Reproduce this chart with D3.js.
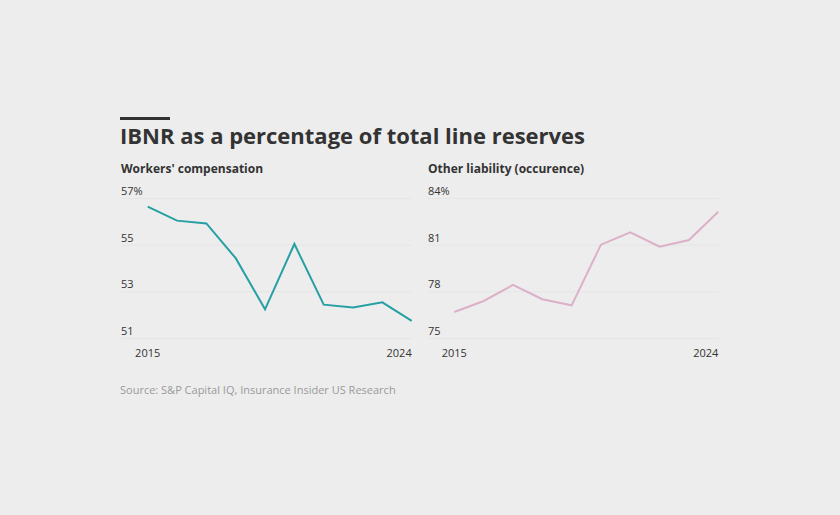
<!DOCTYPE html>
<html>
<head>
<meta charset="utf-8">
<script src="https://cdn.jsdelivr.net/npm/d3@7"></script>
<style>
  html, body { margin: 0; padding: 0; background: #ededed; }
  svg { display: block; }
  text { font-family: "Open Sans", sans-serif; }
</style>
</head>
<body>
<svg id="chart" width="840" height="515"></svg>
<script>
const years = [2015, 2016, 2017, 2018, 2019, 2020, 2021, 2022, 2023, 2024];
const workersComp = [56.63, 56.03, 55.91, 54.42, 52.23, 55.03, 52.43, 52.31, 52.53, 51.73];
const otherLiability = [76.67, 77.38, 78.41, 77.49, 77.10, 81.0, 81.79, 80.87, 81.30, 83.12];
const wcTicks = [51, 53, 55, 57];
const olTicks = [75, 78, 81, 84];
const xTickYears = [2015, 2024];

const svg = d3.select("#chart");
svg.append("rect").attr("width", 840).attr("height", 515).attr("fill", "#ededed");

svg.append("rect").attr("x", 120).attr("y", 117).attr("width", 50).attr("height", 3).attr("fill", "#333333");
svg.append("text").attr("x", 120).attr("y", 144)
  .attr("font-size", 22).attr("font-weight", 700).attr("fill", "#333333")
  .text("IBNR as a percentage of total line reserves");

svg.append("text").attr("x", 120).attr("y", 394)
  .attr("font-size", 11).attr("fill", "#9a9a9a")
  .text("Source: S&P Capital IQ, Insurance Insider US Research");

function panel(opts) {
  const g = svg.append("g");
  const x = d3.scaleLinear().domain([years[0], years[years.length - 1]]).range([opts.x0, opts.x1]);
  const y = d3.scaleLinear().domain(opts.domain).range([338, 198]);

  g.append("text").attr("x", opts.left).attr("y", 173)
    .attr("font-size", 12).attr("font-weight", 700).attr("fill", "#333333")
    .text(opts.title);

  const grid = g.append("g");
  grid.selectAll("line").data(opts.ticks).join("line")
    .attr("x1", opts.left).attr("x2", opts.x1)
    .attr("y1", d => y(d) + 0.5).attr("y2", d => y(d) + 0.5)
    .attr("stroke", "#e5e5e5").attr("stroke-width", 1);

  const top = opts.ticks[opts.ticks.length - 1];
  grid.selectAll("text").data(opts.ticks).join("text")
    .attr("x", opts.left).attr("y", d => y(d) - 3)
    .attr("font-size", 11).attr("fill", "#333333")
    .text(d => d === top ? d + "%" : d);

  g.selectAll("text.xt").data(xTickYears).join("text").attr("class", "xt")
    .attr("x", d => x(d)).attr("y", 357)
    .attr("text-anchor", (d, i) => i === 0 ? "middle" : "end")
    .attr("font-size", 11).attr("fill", "#333333")
    .text(d => d);

  const line = d3.line().x((d, i) => x(years[i])).y(d => y(d));
  g.append("path").datum(opts.values)
    .attr("d", line).attr("fill", "none")
    .attr("stroke", opts.color).attr("stroke-width", 2)
    .attr("stroke-linejoin", "miter");
}

panel({ left: 121, x0: 147.7, x1: 411.7, domain: [51, 57], ticks: wcTicks,
        values: workersComp, color: "#26a0a4", title: "Workers' compensation" });
panel({ left: 428, x0: 454.3, x1: 718.3, domain: [75, 84], ticks: olTicks,
        values: otherLiability, color: "#dcb0c8", title: "Other liability (occurence)" });
</script>
</body>
</html>
